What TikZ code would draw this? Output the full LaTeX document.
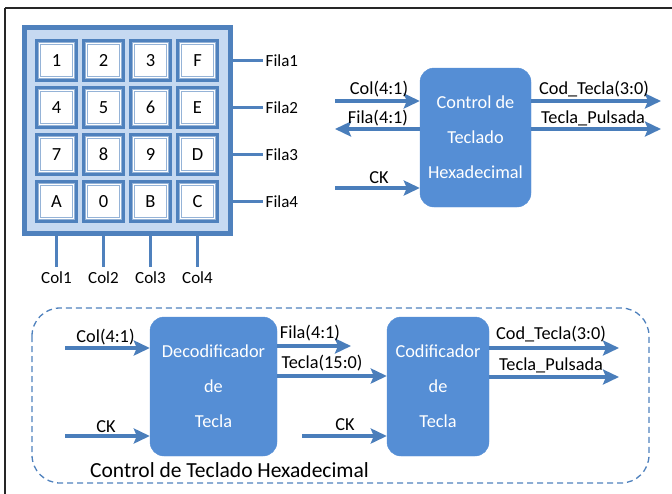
\documentclass[tikz,border=0pt]{standalone}
\usepackage{fontspec}
\setmainfont{Carlito}
\usetikzlibrary{arrows.meta,calc}

\definecolor{padblue}{RGB}{79,129,189}
\definecolor{padfill}{RGB}{198,217,241}
\definecolor{keyline}{RGB}{149,179,215}
\definecolor{blkblue}{RGB}{85,142,213}
\definecolor{sigblue}{RGB}{74,126,187}

\tikzset{
  keyframe/.style={fill=padblue, minimum size=43pt, inner sep=0pt},
  keyring/.style={fill=white, draw=keyline, line width=1.2pt, minimum size=36.5pt, inner sep=0pt},
  keyface/.style={fill=white, draw=keyline, line width=0.9pt, minimum size=32pt, inner sep=0pt,
                  font=\fontsize{18.5}{20}\selectfont},
  pinwire/.style={draw=padblue, line width=2.4pt},
  pinlbl/.style={font=\fontsize{17}{19}\selectfont, inner sep=0pt},
  lbl/.style={font=\fontsize{18.3}{20}\selectfont, inner sep=0pt},
  block/.style={fill=blkblue, draw=blkblue, rounded corners=14pt, text=white, align=center,
                font=\fontsize{18.3}{35}\selectfont, inner sep=0pt},
  sig/.style={draw=sigblue, line width=4pt,
              -{Stealth[length=16pt, width=15pt, inset=3pt]}},
}

\begin{document}
\begin{tikzpicture}[x=1pt, y=-1pt]
\useasboundingbox (0,0) rectangle (672,493);

% page frame
\draw[black!85, line width=2.2pt] (5,8) -- (680,8);
\draw[black!85, line width=2.2pt] (5,8) -- (5,500);

% ---------------- keypad ----------------
\node[fill=padfill, draw=padblue, line width=5pt, minimum width=206pt, minimum height=206pt,
      inner sep=0pt] (pad) at (127.5,130.5) {};

\foreach \lab [count=\i from 0] in {1,2,3,F,4,5,6,E,7,8,9,D,A,0,B,C} {
  \pgfmathtruncatemacro{\r}{div(\i,4)+1}
  \pgfmathtruncatemacro{\c}{mod(\i,4)+1}
  \pgfmathsetmacro{\kx}{56.5+47*(\c-1)}
  \pgfmathsetmacro{\ky}{60.5+47*(\r-1)}
  \node[keyframe] (k-\r-\c) at (\kx,\ky) {};
  \node[keyring] (kr-\r-\c) at (k-\r-\c) {};
  \node[keyface] (kf-\r-\c) at (k-\r-\c) {\lab};
}

% row wires
\foreach \r in {1,2,3,4} {
  \coordinate (fw-\r) at ($(pad.east |- k-\r-4)+(30,0)$);
  \node[pinlbl, anchor=west] (fila\r) at ($(fw-\r)+(2.5,0)$) {Fila\r};
  \draw[pinwire] (pad.east |- k-\r-4) -- (fw-\r);
}

% column wires
\foreach \c in {1,2,3,4} {
  \coordinate (cw-\c) at ($(pad.south -| k-4-\c)+(0,31)$);
  \node[pinlbl] (col\c) at ($(cw-\c)+(0,10.5)$) {Col\c};
  \draw[pinwire] (pad.south -| k-4-\c) -- (cw-\c);
}

% ---------------- top-level block ----------------
\node[block, minimum width=111pt, minimum height=139pt] (ctl) at (475.5,137.5)
  {Control de\\Teclado\\Hexadecimal};

\coordinate (ctl-col) at (335,101);
\coordinate (ctl-fila) at (335,129);
\coordinate (ctl-ck) at (335,188);
\coordinate (ctl-cod) at (661,101);
\coordinate (ctl-pul) at (661,129);

\draw[sig] (ctl-col) -- (ctl.west |- ctl-col);
\draw[sig] (ctl.west |- ctl-fila) -- (ctl-fila);
\draw[sig] (ctl-ck) -- (ctl.west |- ctl-ck);
\draw[sig] (ctl.east |- ctl-cod) -- (ctl-cod);
\draw[sig] (ctl.east |- ctl-pul) -- (ctl-pul);

\node[lbl] (t-col) at (379,89) {Col(4:1)};
\node[lbl] (t-fila) at (378,118) {Fila(4:1)};
\node[lbl] (t-ck) at (379,178) {CK};
\node[lbl] (t-cod) at (594,89) {Cod\_Tecla(3:0)};
\node[lbl] (t-pul) at (593,118) {Tecla\_Pulsada};

% ---------------- internal structure ----------------
\draw[padblue, line width=1.3pt, dash pattern=on 6pt off 4pt, rounded corners=28pt]
  (32,308) rectangle (649,483);

\node[block, minimum width=127pt, minimum height=139pt] (dec) at (213.5,386.5)
  {Decodificador\\de\\Tecla};
\node[block, minimum width=102pt, minimum height=139pt] (cod) at (438,386.5)
  {Codificador\\de\\Tecla};

\coordinate (d-col) at (65,348);
\coordinate (d-ck) at (65,436);
\coordinate (d-fila) at (351,346);
\coordinate (c-tec) at (0,376);
\coordinate (c-ck) at (302,436);
\coordinate (c-cod) at (619,348);
\coordinate (c-pul) at (619,377);

\draw[sig] (d-col) -- (dec.west |- d-col);
\draw[sig] (d-ck) -- (dec.west |- d-ck);
\draw[sig] (dec.east |- d-fila) -- (d-fila);
\draw[sig] (dec.east |- c-tec) -- (cod.west |- c-tec);
\draw[sig] (c-ck) -- (cod.west |- c-ck);
\draw[sig] (cod.east |- c-cod) -- (c-cod);
\draw[sig] (cod.east |- c-pul) -- (c-pul);

\node[lbl] (b-col) at (105.5,337) {Col(4:1)};
\node[lbl] (b-ck) at (106,427) {CK};
\node[lbl] (b-fila) at (310,333) {Fila(4:1)};
\node[lbl] (b-tec) at (322,363) {Tecla(15:0)};
\node[lbl] (b-ck2) at (345,425) {CK};
\node[lbl] (b-cod) at (551,334) {Cod\_Tecla(3:0)};
\node[lbl] (b-pul) at (551,365) {Tecla\_Pulsada};

\node[font=\fontsize{21.5}{24}\selectfont, anchor=west, inner sep=0pt] (cap) at (90,470)
  {Control de Teclado Hexadecimal};
\end{tikzpicture}
\end{document}
